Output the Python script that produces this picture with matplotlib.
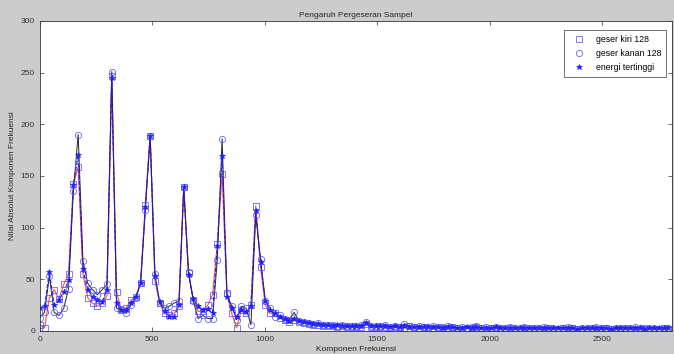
import numpy as np
import matplotlib
matplotlib.use("Agg")
import matplotlib.pyplot as plt

plt.rcParams['font.family'] = ['Liberation Sans Narrow', 'Liberation Sans', 'DejaVu Sans']

# frequency bin spacing
step = 21.33

# geser kiri 128 (squares)
kiri_head = [6, 3, 32, 40, 31, 45, 55, 142, 159, 55, 32, 27, 24, 27, 34, 247, 38, 20, 22, 30,
             33, 46, 122, 189, 48, 27, 17, 15, 17, 24, 139, 56, 30, 19, 19, 25, 35, 84, 152, 37,
             17, 3, 20, 17, 25, 121, 62, 25, 17, 17]
kiri_tail = [13, 11, 9, 11, 9, 8, 7, 6, 6, 5, 6, 5, 4, 5, 4, 5, 4, 4, 7, 4,
             4, 5, 4, 3, 4, 4, 3, 5, 4, 3, 4, 3, 3, 4, 3, 3, 4, 3, 2, 3,
             3, 4, 3, 2, 3, 3, 2, 3, 3, 2, 2, 3, 2, 3, 2, 2, 3, 2, 2, 3,
             2, 3, 2, 2, 2, 3, 2, 2, 3, 2, 2, 2, 3, 2, 2, 2, 3, 2, 2, 2, 3, 2]

# geser kanan 128 (circles)
kanan_head = [13, 18, 53, 18, 15, 22, 41, 135, 190, 68, 46, 40, 35, 40, 45, 251, 22, 21, 17, 25,
              32, 46, 117, 189, 55, 27, 22, 24, 27, 29, 139, 57, 29, 12, 15, 12, 12, 69, 186, 36,
              24, 11, 24, 22, 6, 112, 70, 29, 22, 14]
kanan_tail = [15, 12, 11, 18, 10, 9, 8, 7, 8, 6, 5, 6, 5, 6, 5, 4, 5, 6, 9, 5,
              5, 4, 6, 4, 5, 4, 7, 5, 4, 5, 4, 4, 5, 3, 4, 5, 4, 3, 4, 3,
              4, 5, 3, 4, 3, 4, 3, 2, 4, 3, 3, 4, 3, 2, 3, 4, 3, 3, 2, 3,
              4, 3, 2, 3, 3, 2, 4, 3, 3, 2, 3, 3, 2, 3, 4, 3, 2, 3, 3, 2, 3, 3]

# energi tertinggi (stars)
energi_head = [22, 24, 57, 25, 30, 38, 49, 141, 170, 60, 40, 33, 30, 28, 40, 245, 27, 20, 20, 27,
               33, 46, 120, 189, 53, 28, 19, 14, 14, 25, 139, 54, 31, 24, 20, 21, 17, 82, 169, 33,
               22, 14, 20, 18, 24, 116, 67, 29, 20, 17]
energi_tail = [14, 12, 10, 12, 10, 9, 8, 7, 7, 6, 6, 5, 6, 5, 5, 5, 5, 5, 8, 5,
               5, 5, 5, 4, 5, 4, 5, 4, 4, 4, 4, 4, 4, 4, 3, 4, 4, 3, 3, 4,
               3, 4, 3, 3, 3, 4, 3, 3, 3, 3, 3, 3, 3, 3, 3, 3, 3, 3, 3, 3,
               3, 3, 2, 3, 3, 3, 3, 3, 3, 2, 3, 3, 3, 3, 3, 3, 2, 3, 3, 3, 3, 3]

kiri = np.array(kiri_head + kiri_tail)
kanan = np.array(kanan_head + kanan_tail)
energi = np.array(energi_head + energi_tail)

fig = plt.figure(figsize=(6.74, 3.54), dpi=100, facecolor='#cccccc')
ax = fig.add_axes([0.059, 0.065, 0.938, 0.876])

x1 = np.arange(len(kiri)) * step
x2 = np.arange(len(kanan)) * step
x3 = np.arange(len(energi)) * step

# lines
ax.plot(x1, kiri, '-', color='#ff3333', lw=0.9, alpha=0.8)
ax.plot(x2, kanan, '-', color='black', lw=0.7, alpha=0.85)
ax.plot(x3, energi, '--', color='#1a1aff', lw=0.8)

# markers
mcol = '#4a4aff'
ax.plot(x1, kiri, 's', mfc='none', mec=mcol, ms=4.5, mew=0.6, alpha=0.85, label='geser kiri 128')
ax.plot(x2, kanan, 'o', mfc='none', mec=mcol, ms=4.5, mew=0.6, alpha=0.85, label='geser kanan 128')
ax.plot(x3, energi, '*', color='#2020ff', ms=4, mew=0.5, label='energi tertinggi')

ax.set_xlim(0, 2810)
ax.set_ylim(0, 300)
ax.set_xticks([0, 500, 1000, 1500, 2000, 2500])
ax.set_yticks([0, 50, 100, 150, 200, 250, 300])
ax.tick_params(direction='in', labelsize=6, top=True, right=True, length=3, width=0.5,
               colors='#333333')
for s in ax.spines.values():
    s.set_linewidth(0.6)
    s.set_color('#333333')

ax.set_title('Pengaruh Pergeseran Sampel', fontsize=6, pad=3, color='#222222')
ax.set_xlabel('Komponen Frekuensi', fontsize=6, labelpad=2, color='#222222')
ax.set_ylabel('Nilai Absolut Komponen Frekuensi', fontsize=6, labelpad=3, color='#222222')

leg = ax.legend(loc='upper right', fontsize=6.3, frameon=True, fancybox=False,
                edgecolor='#333333', handlelength=2.2, borderpad=0.6, labelspacing=0.55,
                bbox_to_anchor=(0.998, 0.985))
leg.get_frame().set_linewidth(0.6)

fig.savefig('out.png', dpi=100, facecolor=fig.get_facecolor())
